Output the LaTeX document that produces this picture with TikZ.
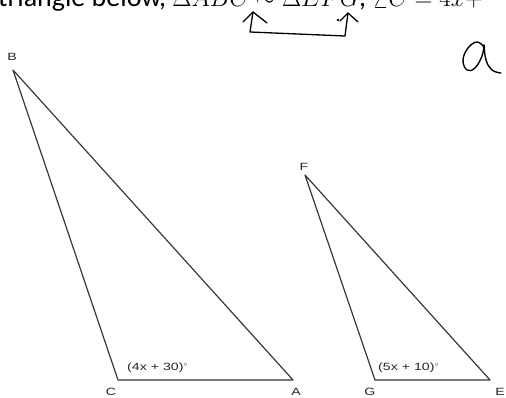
\documentclass[tikz,border=0pt]{standalone}
\usepackage{fontspec}
\setmainfont{Carlito}
\setsansfont{Liberation Sans}
\newfontfamily\lblfont[FakeStretch=1.35]{Liberation Sans}
\begin{document}
\begin{tikzpicture}[x=1pt,y=-1pt,
  tri/.style={draw=black!78,line width=1.2pt,line join=round},
  vlab/.style={font=\lblfont\fontsize{10.5}{12}\selectfont,text=black!85,inner sep=0pt},
  anglab/.style={font=\lblfont\fontsize{10.5}{12}\selectfont,text=black!85,inner sep=0pt,anchor=base west},
  hand/.style={draw=black,line width=1.3pt,line cap=round,line join=round}]
\useasboundingbox (0,0) rectangle (506,398);
\clip (0,0) rectangle (506,398);
% header text (cut off at top)
\node[anchor=base west,inner sep=0pt,font=\fontsize{28}{30}\selectfont] (hdr) at (-2,7)
  {triangle below, $\Delta ABC \sim \Delta EFG$, $\angle C = 4x +$};
% triangle ABC
\coordinate (B) at (13,70);
\coordinate (C) at (118,380);
\coordinate (A) at (293,380);
\draw[tri] (B) -- (C) -- (A) -- cycle;
\node[vlab] (lB) at (12,57) {B};
\node[vlab] (lC) at (111,392) {C};
\node[vlab] (lA) at (296,392) {A};
\node[anglab] (a1) at (127,370) {(4x + 30)$^\circ$};
% triangle EFG
\coordinate (F) at (305,175);
\coordinate (G) at (375,380);
\coordinate (E) at (490,380);
\draw[tri] (F) -- (G) -- (E) -- cycle;
\node[vlab] (lF) at (304,167) {F};
\node[vlab] (lG) at (370,392) {G};
\node[vlab] (lE) at (500,392) {E};
\node[anglab] (a2) at (378,370) {(5x + 10)$^\circ$};
% handwritten connector arrows
\coordinate (h1) at (253,12);
\coordinate (h2) at (348,13);
\draw[hand] (h1) -- (250,32) -- (345,36) -- (h2);
\draw[hand] (243,22) -- (h1) -- (267,23);
\draw[hand] (340,21) -- (h2) -- (358,22);
\fill (338,20) circle (1.3pt);
% handwritten a
\draw[hand,line width=1.4pt] plot[smooth,tension=0.7] coordinates
  {(484,47) (477,42) (468,48) (463,60) (467,70) (475,68) (482,56) (484,45)};
\draw[hand,line width=1.4pt] plot[smooth,tension=0.7] coordinates
  {(484,45) (486,60) (492,70) (501,73)};
\end{tikzpicture}
\end{document}
